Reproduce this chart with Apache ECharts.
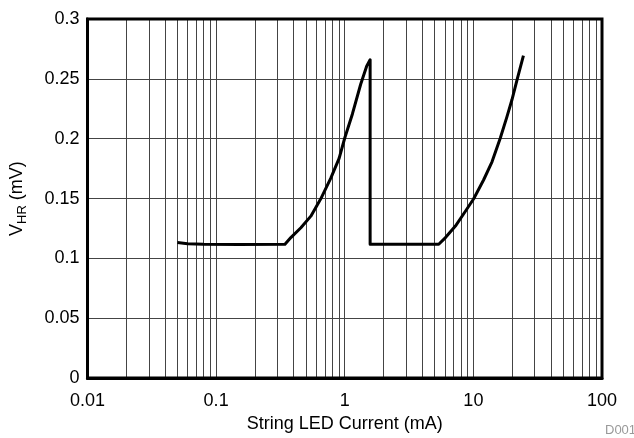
<!DOCTYPE html>
<html>
<head>
<meta charset="utf-8">
<script src="https://cdn.jsdelivr.net/npm/echarts@6/dist/echarts.min.js"></script>
<style>html,body{margin:0;padding:0;background:#fff;}#c{width:634px;height:438px;}</style>
</head>
<body>
<div id="c"></div>
<script>
// String LED current (mA) and headroom voltage (mV)
var currentMA = [0.05, 0.06, 0.08, 0.15, 0.343, 0.381, 0.456, 0.545, 0.651, 0.779, 0.904, 1.0, 1.147, 1.33, 1.48, 1.575, 1.575, 2.0, 3.0, 5.38, 6.07, 7.25, 8.67, 10.06, 12.0, 13.96, 16.2, 18.2, 19.95, 22.0, 24.5];
var vhrMV     = [0.1132, 0.1122, 0.1118, 0.1117, 0.1118, 0.1174, 0.1256, 0.1353, 0.1498, 0.167, 0.1835, 0.2006, 0.2207, 0.2455, 0.2606, 0.266, 0.1118, 0.1118, 0.1118, 0.1118, 0.1174, 0.127, 0.1394, 0.1498, 0.1655, 0.1807, 0.2006, 0.218, 0.2325, 0.2504, 0.2694];
var xTicks = [0.01, 0.1, 1, 10, 100];
var yTicks = [0, 0.05, 0.1, 0.15, 0.2, 0.25, 0.3];
var minorMultipliers = [2, 3, 4, 5, 6, 7, 8, 9];

var minorLines = [];
for (var d = 0; d < xTicks.length - 1; d++) {
  for (var m = 0; m < minorMultipliers.length; m++) {
    minorLines.push({ xAxis: +(xTicks[d] * minorMultipliers[m]).toPrecision(6) });
  }
}
var pts = currentMA.map(function (x, i) { return [x, vhrMV[i]]; });

var chart = echarts.init(document.getElementById('c'), null, { renderer: 'canvas' });
var FONT = '"Liberation Sans", Arial, sans-serif';
chart.setOption({
  animation: false,
  backgroundColor: '#fff',
  grid: { left: 86, right: 32, top: 19, bottom: 56, show: true, borderColor: '#000', borderWidth: 3, backgroundColor: 'transparent', z: 10 },
  xAxis: {
    type: 'log', logBase: 10, min: xTicks[0], max: xTicks[xTicks.length - 1],
    axisLine: { show: true, lineStyle: { color: '#000', width: 3 } },
    axisTick: { show: false },
    splitLine: { show: true, lineStyle: { color: '#444', width: 1 } },
    axisLabel: { color: '#000', fontSize: 18, fontFamily: FONT, margin: 14,
      formatter: function (v) { return String(v); } },
    name: 'String LED Current (mA)', nameLocation: 'middle', nameGap: 34,
    nameTextStyle: { color: '#000', fontSize: 18, fontFamily: FONT }
  },
  yAxis: {
    type: 'value', min: yTicks[0], max: yTicks[yTicks.length - 1], interval: 0.05,
    axisLine: { show: true, lineStyle: { color: '#000', width: 3 } },
    axisTick: { show: false },
    splitLine: { show: true, lineStyle: { color: '#444', width: 1 } },
    axisLabel: { color: '#000', fontSize: 18, fontFamily: FONT, margin: 8,
      formatter: function (v) { return String(+v.toFixed(2)); } },
    name: '{v|V}{s|HR}{v| (mV)}', nameLocation: 'middle', nameGap: 59,
    nameTextStyle: {
      color: '#000', fontFamily: FONT,
      rich: {
        v: { fontSize: 18, fontFamily: FONT, color: '#000' },
        s: { fontSize: 13, fontFamily: FONT, color: '#000', verticalAlign: 'bottom', padding: [10, 0, 0, 0] }
      }
    }
  },
  graphic: [{
    type: 'text', left: 605, top: 424,
    style: { text: 'D001', fill: '#999', font: '13px "Liberation Sans", Arial, sans-serif' }
  }],
  series: [{
    type: 'line', data: pts, showSymbol: false, symbol: 'none',
    lineStyle: { color: '#000', width: 3, join: 'round' }, z: 5,
    markLine: {
      silent: true, symbol: 'none', label: { show: false },
      lineStyle: { color: '#444', width: 1, type: 'solid' },
      data: minorLines, z: 1
    }
  }]
});
</script>
</body>
</html>
